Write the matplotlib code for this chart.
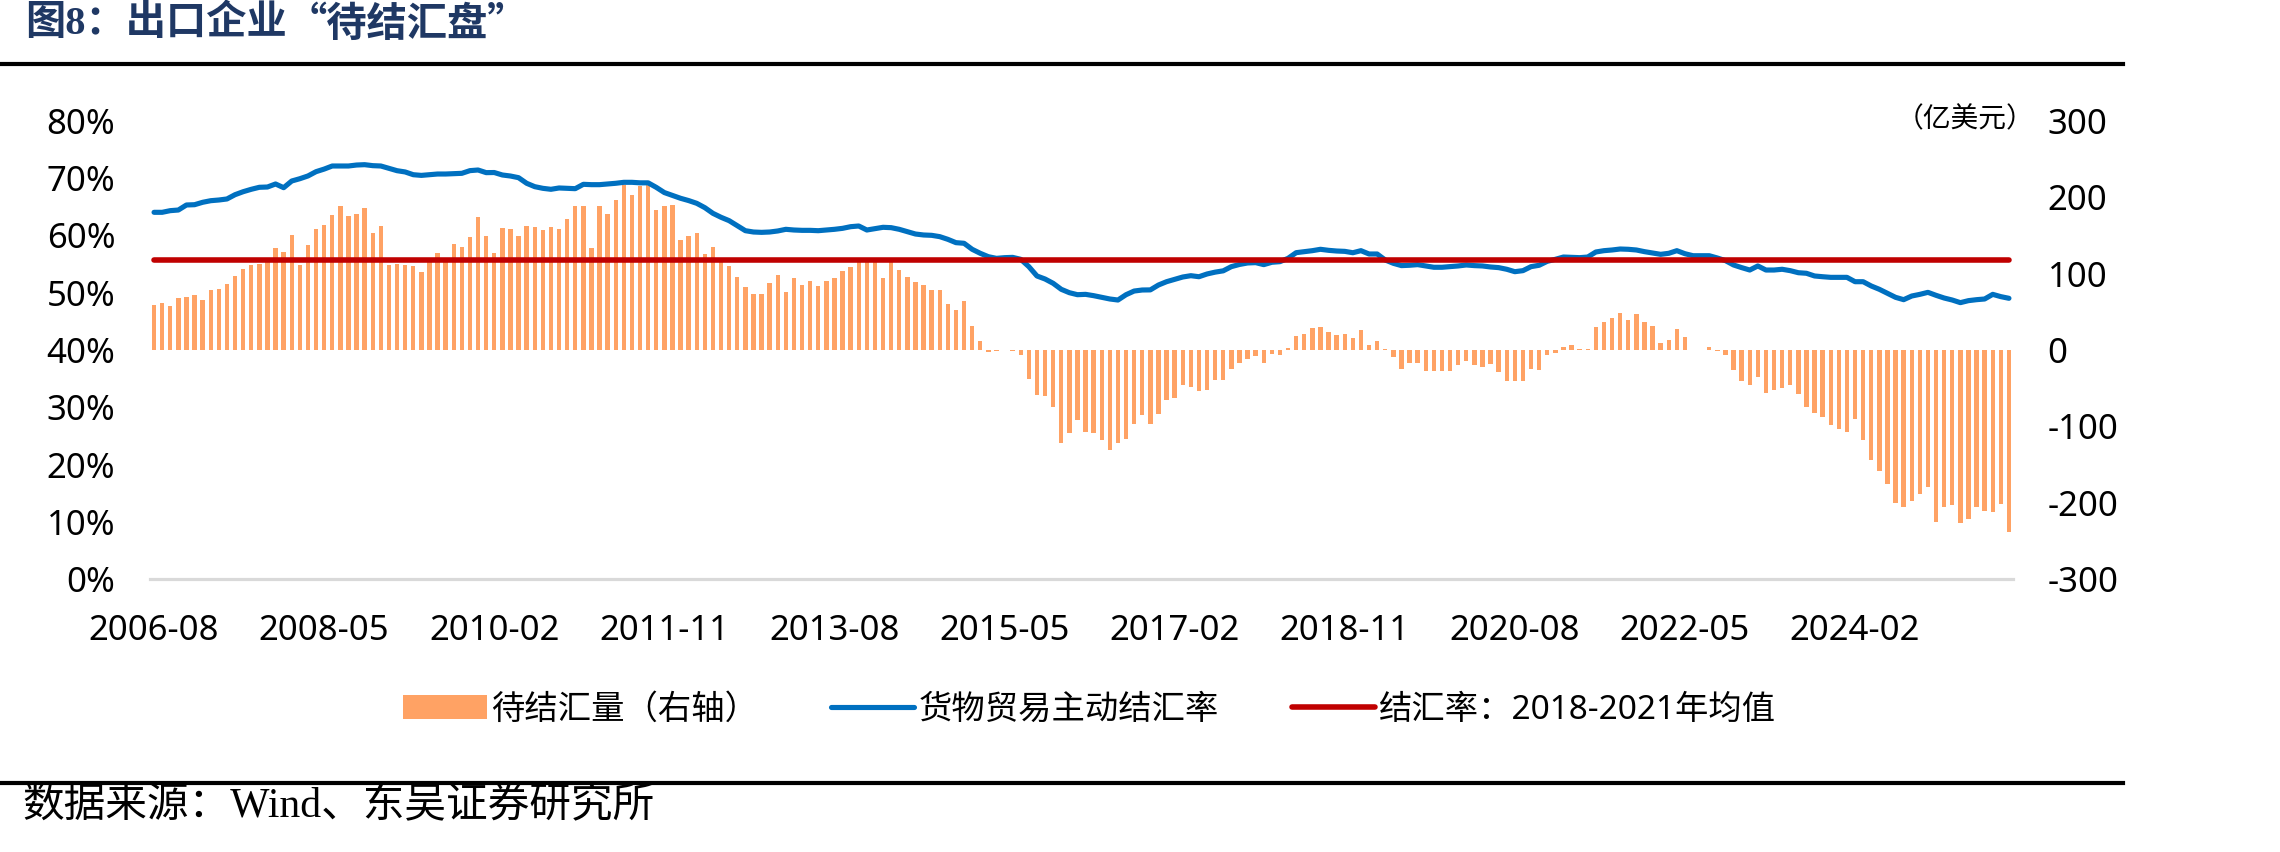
import matplotlib
matplotlib.use("Agg")
import matplotlib.pyplot as plt
from matplotlib.lines import Line2D
from matplotlib.patches import Patch
import numpy as np
import pandas as pd

plt.rcParams['font.family'] = ['Noto Sans', 'Noto Sans CJK SC', 'DejaVu Sans']

# ---------------- data ----------------
start_month = "2006-08"
n_months = 230
months = pd.date_range(start_month, periods=n_months, freq="MS").strftime("%Y-%m").tolist()

# 待结汇量（右轴），亿美元
pending = [
    58.6, 61.7, 57.8, 68.2, 69.9, 72.1, 65.6, 78.2, 80.0, 86.9,
    97.0, 106.5, 111.4, 113.1, 116, 133, 128, 150.6, 110.9, 137.5,
    158.4, 163.2, 177.1, 188.5, 176.2, 178.4, 185.9, 153.2, 162.4, 111.4,
    113.1, 111.4, 110, 102.6, 116, 127.5, 118, 139.2, 135.3, 148.4,
    174.1, 149.3, 127, 159.7, 158.4, 149.3, 161.8, 161, 157.5, 160.5,
    158.8, 171.9, 189.3, 188.9, 134, 188.9, 178, 196.3, 215.9, 203.7,
    215, 215.9, 183.3, 188, 190.6, 144.4, 149.7, 152.7, 126.1, 134.9,
    118, 110.5, 95.2, 82.6, 73.9, 73.9, 87.8, 98.7, 76, 94.1,
    85.2, 90.4, 83.9, 90.4, 94.1, 103.9, 109.2, 116, 118, 118,
    93.7, 120, 104.8, 95.2, 89.5, 85.2, 78.2, 78, 60.8, 52.5,
    63.8, 32, 12.4, -2.4, -1, 0.5, -1.5, -7.2, -37.6, -59.5,
    -60.4, -74.3, -121.4, -109.2, -91.8, -107.5, -109.2, -117.9, -130.6, -121.4,
    -117, -97.4, -84.8, -96.5, -83.4, -65.1, -63, -46.4, -48.6, -53.9,
    -53, -39.7, -39.7, -24.8, -17, -12.4, -8.1, -17.6, -4.6, -5.9,
    2.8, 18, 21.6, 28.5, 30.7, 23.8, 20.3, 21.2, 15.9, 26.4,
    5.9, 12, 0.7, -9.4, -24.8, -17, -17, -27.9, -27.9, -27.9,
    -27.9, -19.7, -14.4, -19.7, -22.4, -18, -29, -40, -40, -40,
    -25.5, -26, -5.9, -3.7, 3.7, 6.3, 1.6, 1.6, 30.3, 36.9,
    42.1, 48.6, 39.5, 47.3, 36.4, 31.6, 9.8, 13.7, 27.7, 17.6,
    0.5, 0.5, 4.2, -1.5, -7.2, -26.4, -40, -46, -35, -56,
    -53, -50, -45.8, -58, -74.5, -83, -87.6, -97.6, -102.9, -107.2,
    -90.2, -118.3, -144, -158.8, -174.9, -201, -205.5, -197.6, -188.9, -179.3,
    -225.8, -206.3, -203.3, -226.8, -221.6, -206.3, -211.5, -212.3, -202.2, -238.2,
]

# 货物贸易主动结汇率, %
settle_rate = [
    64.05, 64.05, 64.34, 64.45, 65.33, 65.38, 65.8, 66.08, 66.2, 66.38,
    67.13, 67.65, 68.07, 68.42, 68.47, 69.0, 68.35, 69.52, 69.92, 70.4,
    71.15, 71.6, 72.14, 72.14, 72.14, 72.31, 72.37, 72.2, 72.14, 71.74,
    71.32, 71.1, 70.62, 70.5, 70.62, 70.74, 70.74, 70.8, 70.86, 71.33,
    71.44, 70.98, 71.0, 70.57, 70.39, 70.1, 69.12, 68.53, 68.24, 68.07,
    68.3, 68.24, 68.18, 68.94, 68.88, 68.88, 69.0, 69.12, 69.29, 69.29,
    69.2, 69.2, 68.41, 67.5, 67.0, 66.5, 66.1, 65.62, 64.86, 63.87,
    63.18, 62.59, 61.71, 60.84, 60.61, 60.55, 60.61, 60.79, 61.08, 60.96,
    60.9, 60.9, 60.84, 60.96, 61.08, 61.25, 61.54, 61.66, 60.96, 61.19,
    61.43, 61.37, 61.08, 60.66, 60.26, 60.09, 60.03, 59.8, 59.33, 58.75,
    58.64, 57.59, 56.89, 56.3, 56.01, 56.13, 56.18, 55.84, 54.56, 52.93,
    52.4, 51.65, 50.6, 50.01, 49.66, 49.72, 49.49, 49.2, 48.91, 48.73,
    49.66, 50.3, 50.48, 50.5, 51.35, 51.93, 52.35, 52.75, 52.98, 52.8,
    53.28, 53.6, 53.83, 54.56, 54.94, 55.2, 55.26, 54.91, 55.32, 55.43,
    56.01, 57.0, 57.18, 57.35, 57.59, 57.41, 57.29, 57.23, 56.99, 57.35,
    56.77, 56.77, 55.72, 55.14, 54.74, 54.8, 54.91, 54.68, 54.45, 54.45,
    54.56, 54.68, 54.85, 54.74, 54.68, 54.5, 54.39, 54.1, 53.68, 53.86,
    54.56, 54.8, 55.49, 55.84, 56.24, 56.18, 56.13, 56.24, 57.12, 57.35,
    57.47, 57.64, 57.59, 57.47, 57.18, 56.95, 56.71, 56.89, 57.35, 56.82,
    56.47, 56.47, 56.47, 56.07, 55.61, 54.85, 54.39, 53.97, 54.68, 53.97,
    53.97, 54.1, 53.86, 53.5, 53.4, 52.93, 52.8, 52.69, 52.69, 52.69,
    51.93, 51.93, 51.18, 50.6, 49.9, 49.2, 48.79, 49.43, 49.72, 50.07,
    49.55, 49.08, 48.73, 48.27, 48.62, 48.79, 48.91, 49.72, 49.32, 49.03,
]

avg_rate_2018_2021 = 55.8  # %

left_ticks = [0, 10, 20, 30, 40, 50, 60, 70, 80]
left_labels = ["0%", "10%", "20%", "30%", "40%", "50%", "60%", "70%", "80%"]
right_ticks = [-300, -200, -100, 0, 100, 200, 300]
right_labels = ["-300", "-200", "-100", "0", "100", "200", "300"]
label_step = 21

legend_labels = ["待结汇量（右轴）", "货物贸易主动结汇率", "结汇率：2018-2021年均值"]
title_head = "图8：出口企业"
title_tail = "“待结汇盘”"
source_text = "数据来源：Wind、东吴证券研究所"
unit_text = "（亿美元）"

# ---------------- styling ----------------
W, H = 2280, 852
BAR_C = "#FFA264"
BLUE = "#0070C0"
RED = "#C00000"
AXIS_C = "#D9D9D9"
TITLE_C = "#1F3864"

fig = plt.figure(figsize=(W / 100, H / 100), dpi=100)
ax_l, ax_r, ax_t, ax_b = 150, 2013, 121, 579
ax = fig.add_axes([ax_l / W, 1 - ax_b / H, (ax_r - ax_l) / W, (ax_b - ax_t) / H])
ax2 = ax.twinx()

x = np.arange(len(months))

ax2.bar(x, pending, width=0.55, color=BAR_C, linewidth=0)
ax.plot(x, settle_rate, color=BLUE, lw=3.7, solid_capstyle="round",
        solid_joinstyle="round", zorder=3)
ax.plot(x, [avg_rate_2018_2021] * len(x), color=RED, lw=4.0,
        solid_capstyle="round", zorder=4)

ax.set_zorder(ax2.get_zorder() + 1)
ax.patch.set_visible(False)

ax.set_xlim(-0.5, len(x) - 0.5)
ax.set_ylim(0, 80)
ax2.set_ylim(-300, 300)

ax.set_yticks(left_ticks)
ax.set_yticklabels(left_labels)
ax2.set_yticks(right_ticks)
ax2.set_yticklabels(right_labels)
tick_pos = x[::label_step]
ax.set_xticks(tick_pos)
ax.set_xticklabels([months[i] for i in tick_pos])

for a in (ax, ax2):
    for s in a.spines.values():
        s.set_visible(False)
ax.spines["bottom"].set_visible(True)
ax.spines["bottom"].set_color(AXIS_C)
ax.spines["bottom"].set_linewidth(2.3)

ax.tick_params(axis="y", length=0, pad=25, labelsize=25, colors="black")
ax2.tick_params(axis="y", length=0, pad=25, labelsize=25, colors="black")
ax.tick_params(axis="x", length=0, pad=25, labelsize=25, colors="black")

# unit label
fig.text(2034 / W, 1 - 120 / H, unit_text, fontsize=20, ha="right", va="center")

# legend
handles = [
    Patch(facecolor=BAR_C, edgecolor="none"),
    Line2D([0], [0], color=BLUE, lw=3.7, solid_capstyle="round"),
    Line2D([0], [0], color=RED, lw=4.0, solid_capstyle="round"),
]
fig.legend(handles, legend_labels, loc="center", bbox_to_anchor=(1090 / W, 1 - 710 / H),
           ncol=3, frameon=False, fontsize=24, handlelength=2.5, handleheight=0.75,
           handletextpad=0.12, columnspacing=2.2)

# title (two pieces so the quotes come out full width), rules and source
t1 = fig.text(25 / W, 1 - 24 / H, title_head, fontsize=29, fontweight="bold",
              color=TITLE_C, ha="left", va="center",
              family=["Liberation Serif", "Noto Sans CJK SC"])
renderer = fig.canvas.get_renderer()
bb = t1.get_window_extent(renderer=renderer)
fig.text(bb.x1 / W, 1 - 24 / H, title_tail, fontsize=29, fontweight="bold",
         color=TITLE_C, ha="left", va="center", family=["Noto Sans CJK SC"])

fig.add_artist(Line2D([0, 2123 / W], [1 - 64 / H] * 2, color="black", lw=3,
                      transform=fig.transFigure))
fig.add_artist(Line2D([0, 2123 / W], [1 - 783 / H] * 2, color="black", lw=3,
                      transform=fig.transFigure))
fig.text(22 / W, 1 - 807 / H, source_text, fontsize=30,
         color="black", ha="left", va="center",
         family=["Liberation Serif", "Noto Sans CJK SC"])

fig.savefig("out.png", dpi=100)
